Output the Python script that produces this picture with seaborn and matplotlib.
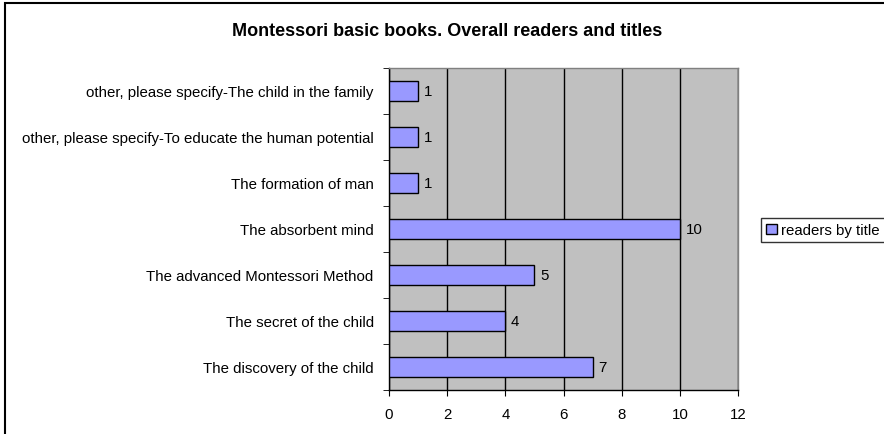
import matplotlib
matplotlib.use("Agg")
import matplotlib.pyplot as plt
import pandas as pd
import seaborn as sns
from matplotlib.patches import Patch, Rectangle
from matplotlib.ticker import MultipleLocator

titles = [
    "other, please specify-The child in the family",
    "other, please specify-To educate the human potential",
    "The formation of man",
    "The absorbent mind",
    "The advanced Montessori Method",
    "The secret of the child",
    "The discovery of the child",
]
readers = [1, 1, 1, 10, 5, 4, 7]

df = pd.DataFrame({"title": titles, "readers": readers})

sns.set_style("white")
plt.rcParams["font.family"] = ["Liberation Sans", "DejaVu Sans"]
plt.rcParams["text.color"] = "black"
plt.rcParams["xtick.color"] = "black"
plt.rcParams["ytick.color"] = "black"

FS = 10.8

fig = plt.figure(figsize=(8.84, 4.35), dpi=100)
ax = fig.add_axes([389 / 884, 1 - 391 / 435, (738 - 389) / 884, (391 - 69) / 435])

bar_color = "#9999FF"
sns.barplot(data=df, x="readers", y="title", orient="h", color=bar_color,
            saturation=1, width=0.42, edgecolor="black", linewidth=1.0, ax=ax, zorder=3)

ax.set_facecolor("#C0C0C0")
ax.set_xlim(0, 12)
ax.set_ylim(len(titles) - 0.5, -0.5)
ax.xaxis.set_major_locator(MultipleLocator(2))
ax.grid(axis="x", color="black", linewidth=1.0, zorder=0)
ax.grid(axis="y", visible=False)
ax.set_axisbelow(True)

for c in ax.containers:
    ax.bar_label(c, padding=4, fontsize=FS, color="black")

# category ticks sit between the bars
ax.set_yticks(range(len(titles)))
ax.set_yticklabels(titles, fontsize=FS)
ax.tick_params(axis="y", length=0, pad=11)
ax.set_yticks([i - 0.5 for i in range(len(titles) + 1)], minor=True)
ax.tick_params(axis="y", which="minor", length=4, direction="out", color="black", left=True)
ax.tick_params(axis="x", length=4, direction="out", color="black", labelsize=FS, bottom=True, pad=8)

ax.set_xlabel("")
ax.set_ylabel("")
for side in ["left", "bottom"]:
    ax.spines[side].set_color("black")
    ax.spines[side].set_linewidth(1.0)
for side in ["top", "right"]:
    ax.spines[side].set_visible(True)
    ax.spines[side].set_color("#808080")
    ax.spines[side].set_linewidth(1.0)

fig.text(0.506, 1 - 32 / 435, "Montessori basic books. Overall readers and titles",
         ha="center", va="center", fontsize=13, fontweight="bold")

handles = [Patch(facecolor=bar_color, edgecolor="black", label="readers by title")]
fig.legend(handles=handles, loc="center left", bbox_to_anchor=(761 / 884, 1 - 231 / 435),
           frameon=True, fontsize=FS, fancybox=False, edgecolor="black",
           handlelength=0.7, handleheight=0.7, handletextpad=0.3, borderpad=0.35,
           borderaxespad=0)

# outer chart frame (only left and top edges show in the crop)
fig.patches.append(Rectangle((5 / 884, -0.1), 1.2, 1 - 4 / 435 + 0.1,
                             transform=fig.transFigure, fill=False,
                             edgecolor="black", linewidth=1.5))

fig.savefig("out.png", dpi=100, facecolor="white")
